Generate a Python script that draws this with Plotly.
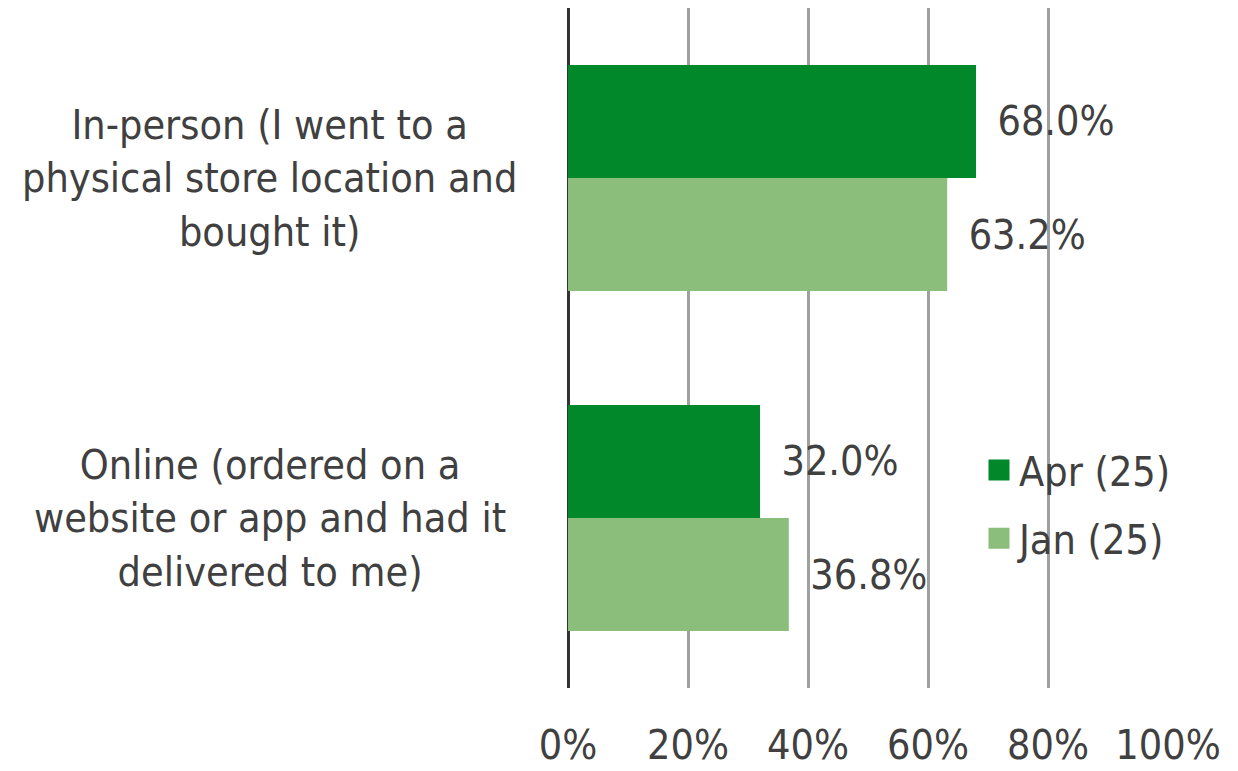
import plotly.graph_objects as go

categories = ["In-person", "Online"]
category_labels = [
    "In-person (I went to a<br>physical store location and<br>bought it)",
    "Online (ordered on a<br>website or app and had it<br>delivered to me)",
]
series_names = ["Apr (25)", "Jan (25)"]
apr_values = [68.0, 32.0]
jan_values = [63.2, 36.8]
tick_values = [0, 20, 40, 60, 80, 100]
tick_labels = ["0%", "20%", "40%", "60%", "80%", "100%"]

dark_green = "#00882B"
light_green = "#8BBE7A"
text_color = "#404040"
font_family = "DejaVu Sans Condensed, DejaVu Sans, sans-serif"
font_size = 41

fig = go.Figure()
for name, vals, color in [
    (series_names[0], apr_values, dark_green),
    (series_names[1], jan_values, light_green),
]:
    fig.add_trace(go.Bar(
        name=name, y=categories, x=vals, orientation="h",
        marker=dict(color=color, line=dict(width=0)),
        text=[f"{v:.1f}%" for v in vals],
        textposition="outside",
        texttemplate="\u2002%{text}",
        textfont=dict(family=font_family, size=font_size, color=text_color),
        cliponaxis=False, showlegend=False,
    ))

# legend entries with large square swatches
for i, (name, color) in enumerate([(series_names[0], dark_green),
                                   (series_names[1], light_green)]):
    fig.add_trace(go.Scatter(
        x=[None], y=[None], mode="markers", name=name,
        marker=dict(symbol="square", size=16, color=color,
                    line=dict(color=color, width=5)),
        legendgroup=f"g{i}", showlegend=True,
    ))

annotations = []
for cat, label in zip(categories, category_labels):
    annotations.append(dict(
        x=-0.497, xref="paper", y=cat, yref="y",
        text=label, showarrow=False, align="center",
        xanchor="center", yanchor="middle",
        font=dict(family=font_family, size=font_size, color=text_color),
    ))

fig.update_layout(
    width=1238, height=771,
    margin=dict(l=568, r=70, t=8, b=83, autoexpand=False),
    paper_bgcolor="white", plot_bgcolor="white",
    barmode="group", bargap=0.335, bargroupgap=0,
    font=dict(family=font_family, size=font_size, color=text_color),
    showlegend=True,
    legend=dict(
        x=0.685, y=0.27, xanchor="left", yanchor="middle",
        bgcolor="rgba(0,0,0,0)", traceorder="grouped",
        font=dict(family=font_family, size=font_size, color=text_color),
        itemwidth=30, tracegroupgap=12,
    ),
    annotations=annotations,
    xaxis=dict(
        range=[0, 100], tickvals=tick_values, ticktext=tick_labels,
        showgrid=True, gridcolor="#A0A0A0", gridwidth=3,
        zeroline=True, zerolinecolor="#333333", zerolinewidth=3,
        showline=False, ticks="", ticklabelstandoff=29, automargin=False,
        tickfont=dict(family=font_family, size=font_size, color=text_color),
    ),
    yaxis=dict(
        range=[1.5, -0.5], showticklabels=False, showgrid=False,
        zeroline=False, showline=False, ticks="", automargin=False,
    ),
)

fig.write_html("out.html")
